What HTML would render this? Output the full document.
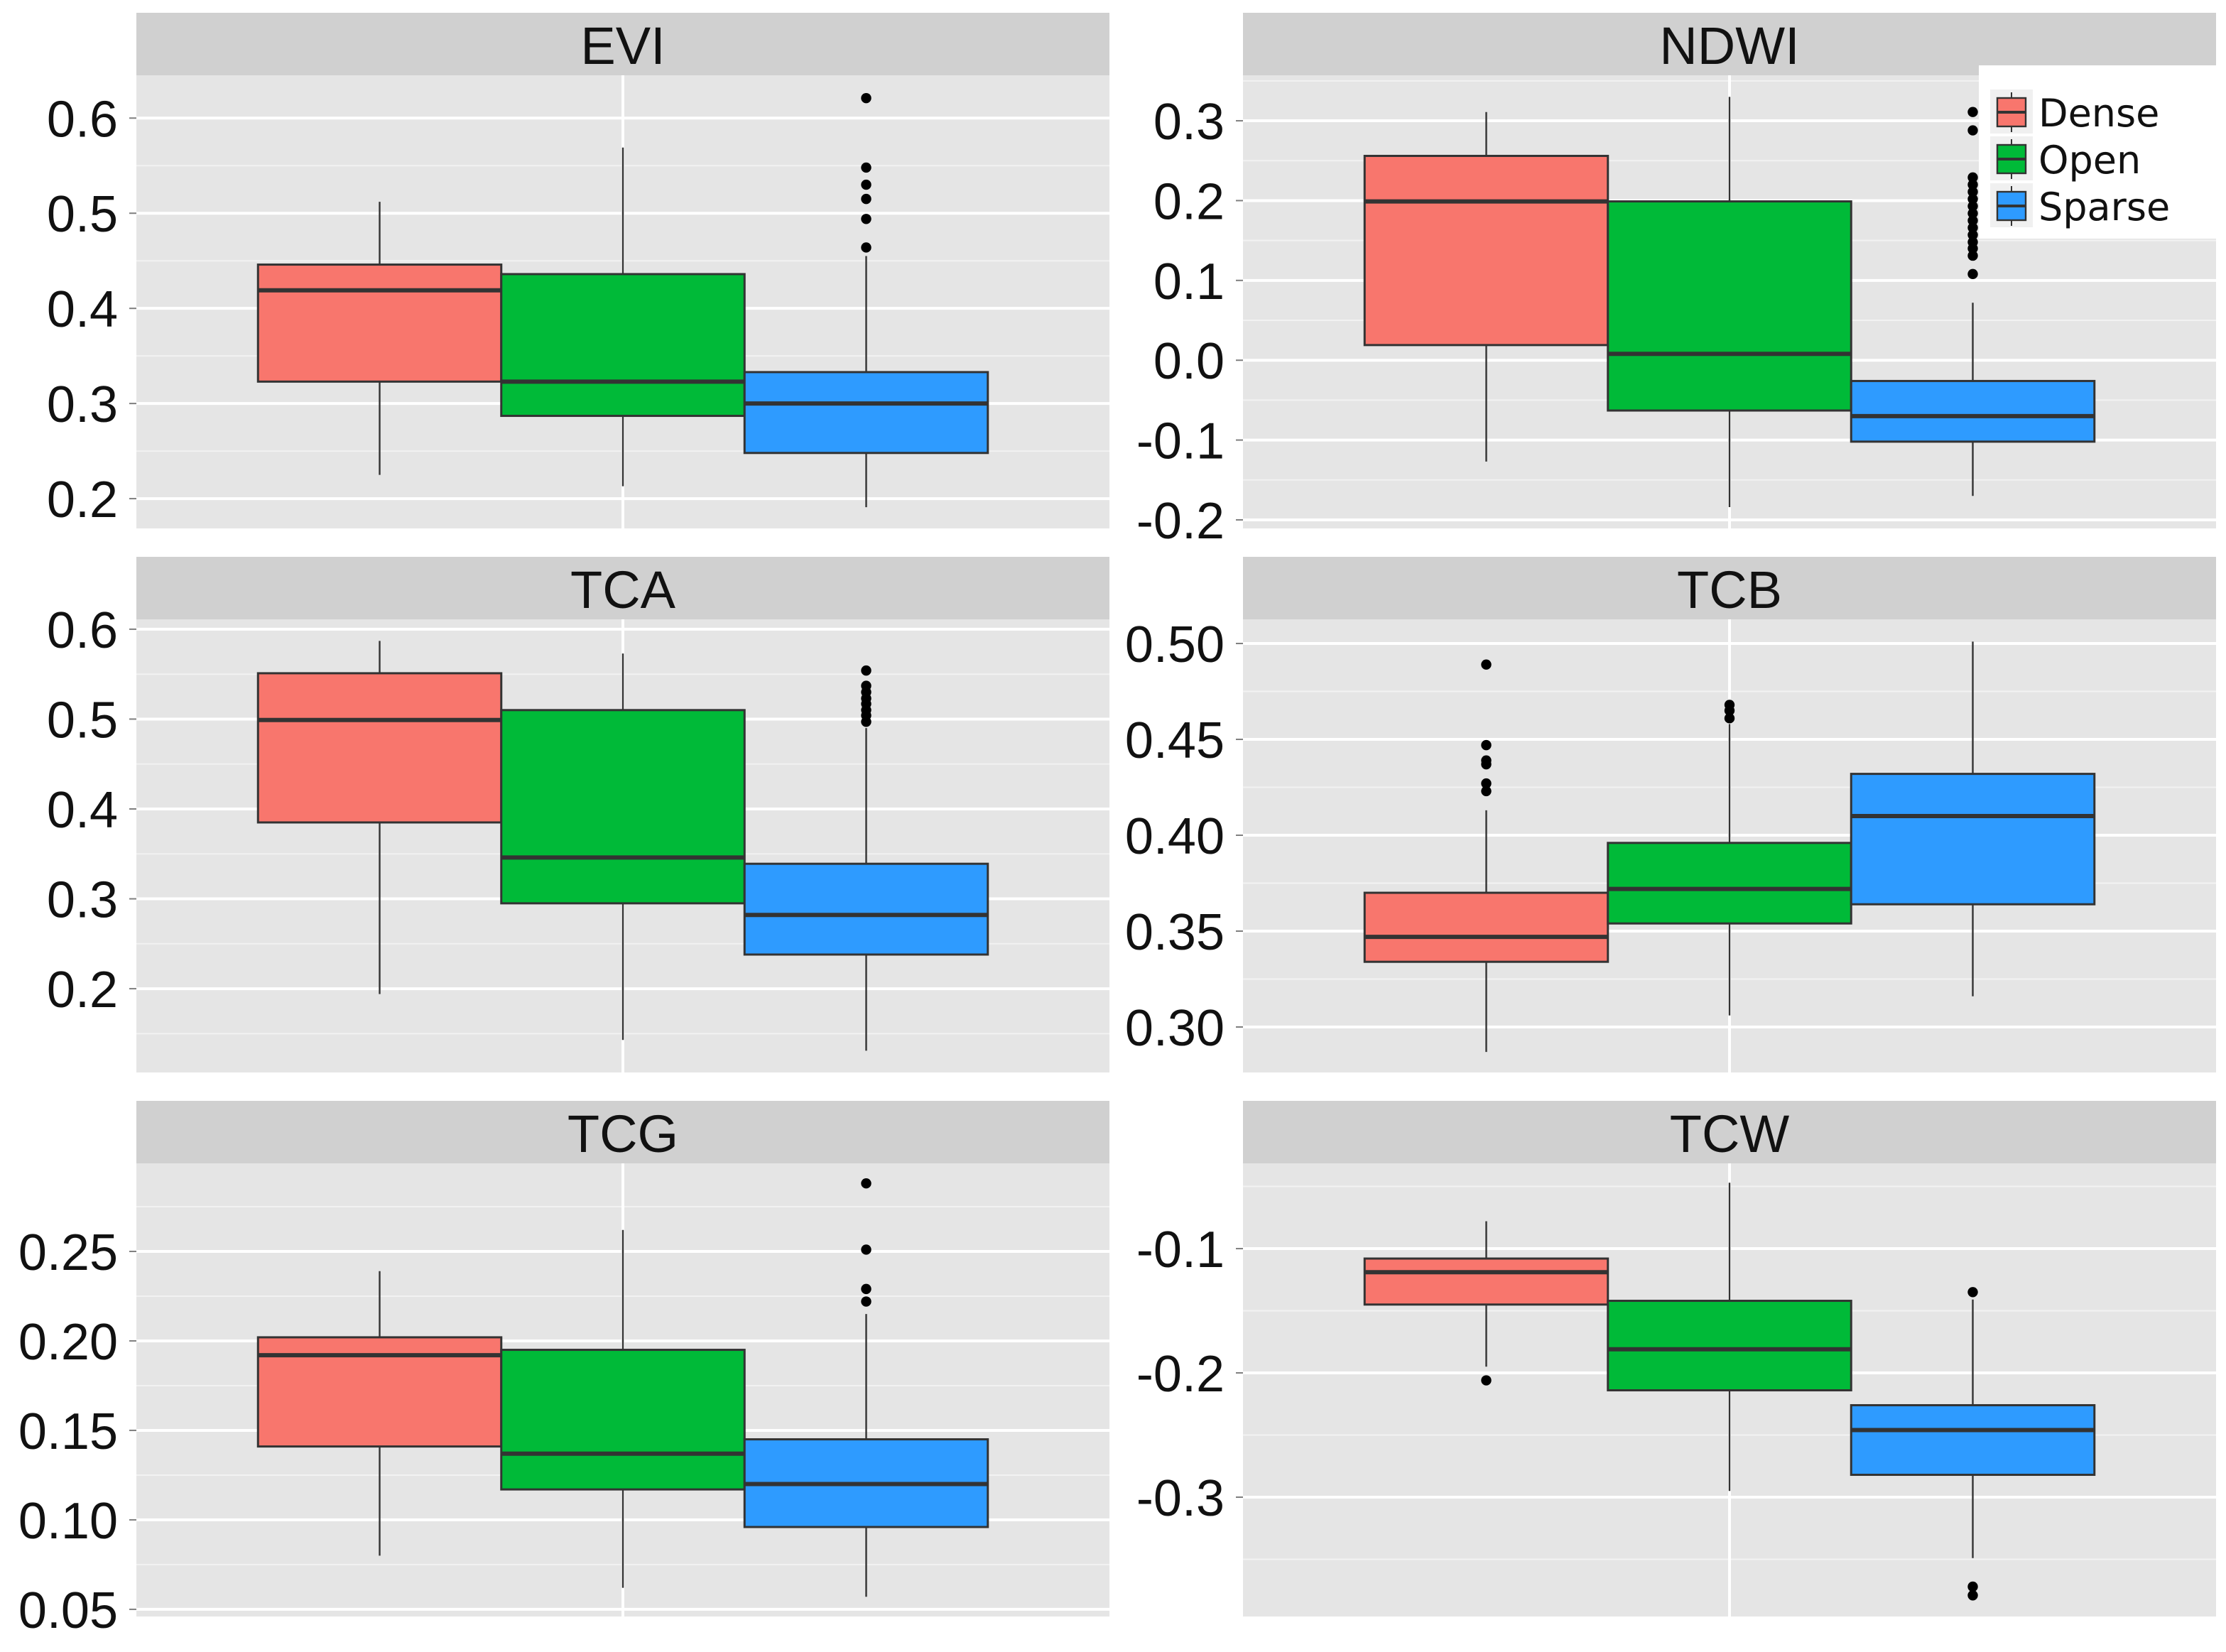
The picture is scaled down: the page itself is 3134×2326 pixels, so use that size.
<!DOCTYPE html>
<html><head><meta charset="utf-8"><style>
html,body{margin:0;padding:0;background:#fff}
svg{display:block}
</style></head><body>
<svg id="chart" xmlns="http://www.w3.org/2000/svg" width="3134" height="2326" viewBox="0 0 1567 1163"></svg>
<script>
// ---- data ----
const groups = ["Dense","Open","Sparse"];
const panelNames = ["EVI","NDWI","TCA","TCB","TCG","TCW"];
// each stat array: [whiskerLow, Q1, median, Q3, whiskerHigh] per group
const statsEVI = [[0.225,0.323,0.419,0.446,0.512],[0.213,0.287,0.323,0.436,0.569],[0.191,0.248,0.300,0.333,0.455]];
const outEVI = [[],[],[0.621,0.548,0.530,0.515,0.494,0.464]];
const statsNDWI = [[-0.127,0.019,0.199,0.256,0.311],[-0.184,-0.063,0.008,0.199,0.330],[-0.170,-0.102,-0.070,-0.026,0.072]];
const outNDWI = [[],[],[0.311,0.288,0.229,0.220,0.211,0.202,0.193,0.184,0.175,0.166,0.157,0.148,0.140,0.131,0.108]];
const statsTCA = [[0.194,0.385,0.499,0.551,0.587],[0.143,0.295,0.346,0.510,0.573],[0.131,0.238,0.282,0.339,0.490]];
const outTCA = [[],[],[0.554,0.537,0.530,0.523,0.517,0.510,0.504,0.497]];
const statsTCB = [[0.287,0.334,0.347,0.370,0.413],[0.306,0.354,0.372,0.396,0.458],[0.316,0.364,0.410,0.432,0.501]];
const outTCB = [[0.489,0.447,0.439,0.437,0.427,0.423],[0.468,0.465,0.461],[]];
const statsTCG = [[0.080,0.141,0.192,0.202,0.239],[0.062,0.117,0.137,0.195,0.262],[0.057,0.096,0.120,0.145,0.215]];
const outTCG = [[],[],[0.288,0.251,0.229,0.222]];
const statsTCW = [[-0.195,-0.145,-0.119,-0.108,-0.078],[-0.295,-0.214,-0.181,-0.142,-0.047],[-0.349,-0.282,-0.246,-0.226,-0.141]];
const outTCW = [[-0.206],[],[-0.135,-0.372,-0.379]];
const ticksEVI = [0.2,0.3,0.4,0.5,0.6];
const ticksNDWI = [-0.2,-0.1,0.0,0.1,0.2,0.3];
const ticksTCA = [0.2,0.3,0.4,0.5,0.6];
const ticksTCB = [0.30,0.35,0.40,0.45,0.50];
const ticksTCG = [0.05,0.10,0.15,0.20,0.25];
const ticksTCW = [-0.3,-0.2,-0.1];
const tickLabelsEVI = ["0.2","0.3","0.4","0.5","0.6"];
const tickLabelsNDWI = ["-0.2","-0.1","0.0","0.1","0.2","0.3"];
const tickLabelsTCA = ["0.2","0.3","0.4","0.5","0.6"];
const tickLabelsTCB = ["0.30","0.35","0.40","0.45","0.50"];
const tickLabelsTCG = ["0.05","0.10","0.15","0.20","0.25"];
const tickLabelsTCW = ["-0.3","-0.2","-0.1"];

// ---- layout ----
const colors = ["#F8766D","#00BA38","#2E9BFF"];
const NS = "http://www.w3.org/2000/svg";
const svg = document.getElementById("chart");
function mk(tag, attrs, parent){const e=document.createElementNS(NS,tag);for(const k in attrs)e.setAttribute(k,attrs[k]);(parent||svg).appendChild(e);return e;}
const panels = [
 {stats:statsEVI,out:outEVI,ticks:ticksEVI,labels:tickLabelsEVI,dom:[0.1687,0.645],col:0,row:0},
 {stats:statsNDWI,out:outNDWI,ticks:ticksNDWI,labels:tickLabelsNDWI,dom:[-0.2107,0.357],col:1,row:0},
 {stats:statsTCA,out:outTCA,ticks:ticksTCA,labels:tickLabelsTCA,dom:[0.1068,0.611],col:0,row:1},
 {stats:statsTCB,out:outTCB,ticks:ticksTCB,labels:tickLabelsTCB,dom:[0.2763,0.5126],col:1,row:1},
 {stats:statsTCG,out:outTCG,ticks:ticksTCG,labels:tickLabelsTCG,dom:[0.046,0.2992],col:0,row:2},
 {stats:statsTCW,out:outTCW,ticks:ticksTCW,labels:tickLabelsTCW,dom:[-0.396,-0.0314],col:1,row:2}
];
const colX = [96,875], pw = 685, stripTop=[9,392,775], stripH=44, ph=319;
panels.forEach((p,i)=>{
  const name = panelNames[i];
  const g = mk("g",{});
  
  
  const x0 = colX[p.col], st = stripTop[p.row], y0 = st+stripH, y1 = y0+ph;
  const strip = mk("rect",{x:x0,y:st,width:pw,height:stripH,fill:"#D0D0D0"},g);
  
  
  const title = mk("text",{x:x0+pw/2,y:st+36,"text-anchor":"middle","font-family":"Liberation Sans, sans-serif","font-size":"37",fill:"#111"},g);
  title.textContent = name;
  
  
  const bg = mk("rect",{x:x0,y:y0,width:pw,height:ph,fill:"#E5E5E5"},g);
  
  
  const [lo,hi] = p.dom;
  const ys = v => y1 - (v-lo)/(hi-lo)*ph;
  const bw = pw/4;
  const xs = v => x0 + pw/2 + (v-2)*bw;
  const clip = "clip"+i;
  const cp = mk("clipPath",{id:clip},g); mk("rect",{x:x0,y:y0,width:pw,height:ph},cp);
  const step = p.ticks[1]-p.ticks[0];
  for(let k=-1;k<p.ticks.length;k++){
    const v = p.ticks[0]+(k+0.5)*step;
    if(v>lo&&v<hi){const l=mk("line",{x1:x0,x2:x0+pw,y1:ys(v),y2:ys(v),stroke:"#F2F2F2","stroke-width":1},g);
      
      }
  }
  p.ticks.forEach((v,k)=>{
    const l=mk("line",{x1:x0,x2:x0+pw,y1:ys(v),y2:ys(v),stroke:"#fff","stroke-width":2},g);
    
    
    const tk=mk("line",{x1:x0-5,x2:x0,y1:ys(v),y2:ys(v),stroke:"#7f7f7f","stroke-width":1},g);
    
    
    const t=mk("text",{x:x0-13,y:ys(v)+13,"text-anchor":"end","font-family":"Liberation Sans, sans-serif","font-size":"36",fill:"#111"},g);
    t.textContent=p.labels[k];
    
    
  });
  const vg=mk("line",{x1:xs(2),x2:xs(2),y1:y0,y2:y1,stroke:"#fff","stroke-width":2},g);
  
  
  const cg = mk("g",{"clip-path":"url(#"+clip+")"},g);
  p.stats.forEach((s,j)=>{
    const cx = xs(j+1);
    const wl = mk("line",{x1:cx,x2:cx,y1:ys(s[0]),y2:ys(s[4]),stroke:"#333","stroke-width":1.2},cg);
    
    
    const b = mk("rect",{x:cx-bw/2,y:ys(s[3]),width:bw,height:ys(s[1])-ys(s[3]),fill:colors[j],stroke:"#333","stroke-width":1.5},cg);
    
    
    const m = mk("line",{x1:cx-bw/2,x2:cx+bw/2,y1:ys(s[2]),y2:ys(s[2]),stroke:"#333","stroke-width":3},cg);
    
    
    p.out[j].forEach(v=>{
      const c = mk("circle",{cx:cx,cy:ys(v),r:3.6,fill:"#000"},cg);
      
      
    });
  });
});
// legend
const lg = mk("g",{});


mk("rect",{x:1393,y:46,width:167,height:122,fill:"#fff"},lg);
groups.forEach((gname,j)=>{
  const cy = 79 + j*33;
  const e = mk("g",{},lg);
  
  
  mk("rect",{x:1401,y:cy-16,width:30,height:31,fill:"#F0F0F0"},e);
  mk("line",{x1:1416,x2:1416,y1:cy-14,y2:cy+14,stroke:"#333","stroke-width":1},e);
  mk("rect",{x:1406,y:cy-10,width:20,height:20,fill:colors[j],stroke:"#333","stroke-width":1.2},e);
  mk("line",{x1:1406,x2:1426,y1:cy,y2:cy,stroke:"#333","stroke-width":2},e);
  const t = mk("text",{x:1435,y:cy+10,"font-family":"DejaVu Sans, Liberation Sans, sans-serif","font-size":"27",fill:"#111"},e);
  t.textContent = gname;
});
</script>
</body></html>
